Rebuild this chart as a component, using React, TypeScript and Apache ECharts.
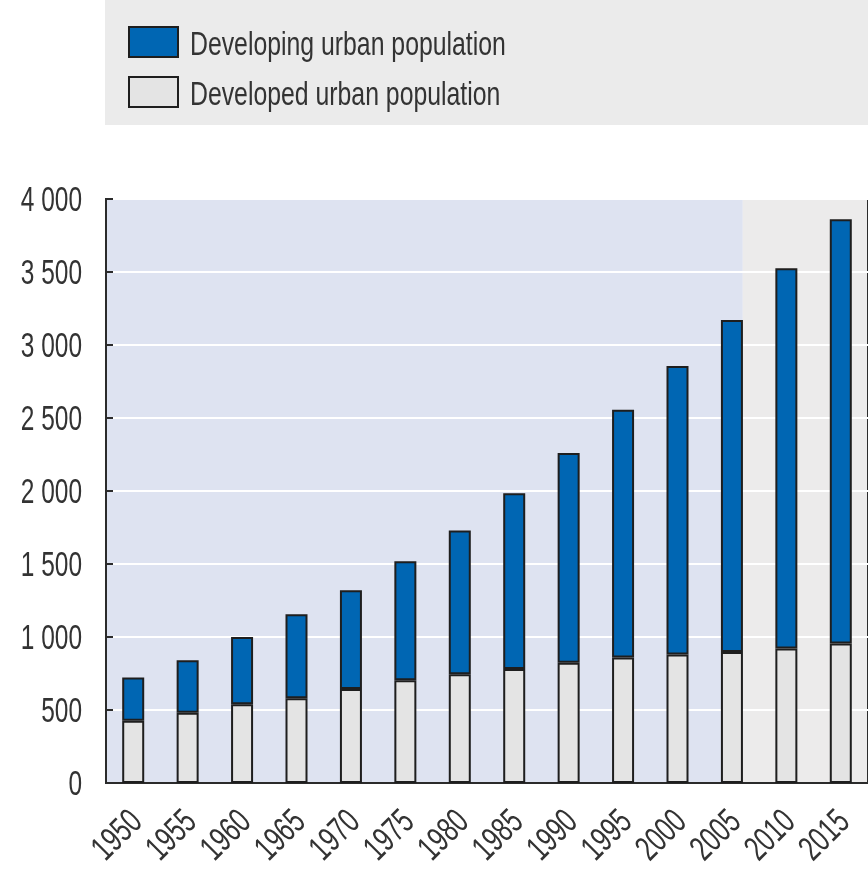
import React, { useEffect, useRef } from 'react';
import * as echarts from 'echarts';

const years = ['1950', '1955', '1960', '1965', '1970', '1975', '1980', '1985', '1990', '1995', '2000', '2005', '2010', '2015'];
const developed = [426, 481, 540, 581, 643, 704, 745, 780, 823, 860, 880, 898, 921, 955];
const developing = [297, 360, 460, 575, 677, 814, 985, 1205, 1438, 1697, 1976, 2273, 2605, 2906];
const legendNames = ['Developing urban population', 'Developed urban population'];
const yTicks = [0, 500, 1000, 1500, 2000, 2500, 3000, 3500, 4000];
const projectionStartYear = 2006;

const BLUE = '#0066B3';
const LIGHT = '#E4E4E4';
const EDGE = '#1e1e1e';
const TEXT = '#333333';
const FONT = '"Liberation Sans", Arial, sans-serif';

export default function App() {
  const ref = useRef<HTMLDivElement>(null);
  useEffect(() => {
    const chart = echarts.init(ref.current!, null, { renderer: 'svg' });
    const fmt = (v: number) =>
      v >= 1000 ? `${Math.floor(v / 1000)} ${String(v % 1000).padStart(3, '0')}` : String(v);
    chart.setOption({
      animation: false,
      textStyle: { fontFamily: FONT },
      grid: {
        left: 106, right: -2, top: 199, bottom: 89,
        show: true, borderColor: '#2b2b2b', borderWidth: 2, backgroundColor: 'transparent',
      },
      xAxis: {
        type: 'category', data: years,
        axisTick: { show: false },
        axisLine: { lineStyle: { color: '#2b2b2b', width: 2 } },
        axisLabel: { show: false },
      },
      yAxis: {
        type: 'value', min: 0, max: 4000, interval: 500,
        axisLine: { show: true, lineStyle: { color: '#2b2b2b', width: 2 } },
        axisTick: { show: true, inside: true, length: 7, lineStyle: { color: '#2b2b2b', width: 2 } },
        splitLine: { lineStyle: { color: '#ffffff', width: 2 } },
        axisLabel: { show: false },
      },
      series: [
        {
          name: legendNames[1], type: 'bar', stack: 'total', data: developed, barWidth: 22,
          itemStyle: { color: LIGHT, borderColor: EDGE, borderWidth: 2 },
        },
        {
          name: legendNames[0], type: 'bar', stack: 'total', data: developing, barWidth: 22,
          itemStyle: { color: BLUE, borderColor: EDGE, borderWidth: 2 },
        },
      ],
    });

    const c0 = chart.convertToPixel({ xAxisIndex: 0 }, 0) as number;
    const c1 = chart.convertToPixel({ xAxisIndex: 0 }, 1) as number;
    const w = c1 - c0;
    const xLeft = c0 - w / 2;
    const xRight = xLeft + w * years.length;
    const yTop = chart.convertToPixel({ yAxisIndex: 0 }, 4000) as number;
    const yBot = chart.convertToPixel({ yAxisIndex: 0 }, 0) as number;
    const step = Number(years[1]) - Number(years[0]);
    const projIdx = (projectionStartYear - Number(years[0])) / step;
    const xProj = xLeft + w * (projIdx + 0.5);

    const labelStyle = { fontSize: 35, fontFamily: FONT, fill: TEXT };
    const yLabels = yTicks.map((v) => ({
      type: 'text',
      x: xLeft - 24,
      y: chart.convertToPixel({ yAxisIndex: 0 }, v) as number,
      scaleX: 0.7,
      style: { ...labelStyle, text: fmt(v), align: 'right', verticalAlign: 'middle' },
    }));
    const xLabels = years.map((yr, i) => ({
      type: 'text',
      x: (chart.convertToPixel({ xAxisIndex: 0 }, i) as number) + 2,
      y: yBot + 32,
      rotation: Math.PI / 4,
      scaleX: 0.7,
      style: { ...labelStyle, text: yr, align: 'right', verticalAlign: 'middle' },
    }));
    const legendItems = legendNames.flatMap((name, i) => {
      const top = i === 0 ? 27 : 77;
      return [
        {
          type: 'rect', shape: { x: 129, y: top, width: 49, height: 30 },
          style: { fill: i === 0 ? BLUE : LIGHT, stroke: EDGE, lineWidth: 2 },
        },
        {
          type: 'text', x: 190, y: top + 16, scaleX: 0.73,
          style: { text: name, fontSize: 34, fontFamily: FONT, fill: TEXT, align: 'left', verticalAlign: 'middle' },
        },
      ];
    });

    chart.setOption({
      graphic: [
        { type: 'rect', z: -10, shape: { x: 105, y: 0, width: 763, height: 125 }, style: { fill: '#EBEBEB' } },
        { type: 'rect', z: -10, shape: { x: xLeft, y: yTop, width: xProj - xLeft, height: yBot - yTop }, style: { fill: '#DEE3F1' } },
        { type: 'rect', z: -10, shape: { x: xProj, y: yTop, width: xRight - xProj, height: yBot - yTop }, style: { fill: '#ECEBEB' } },
        ...legendItems,
        ...yLabels,
        ...xLabels,
      ],
    });
    return () => chart.dispose();
  }, []);
  return <div ref={ref} style={{ position: 'fixed', left: 0, top: 0, width: 868, height: 872 }} />;
}
